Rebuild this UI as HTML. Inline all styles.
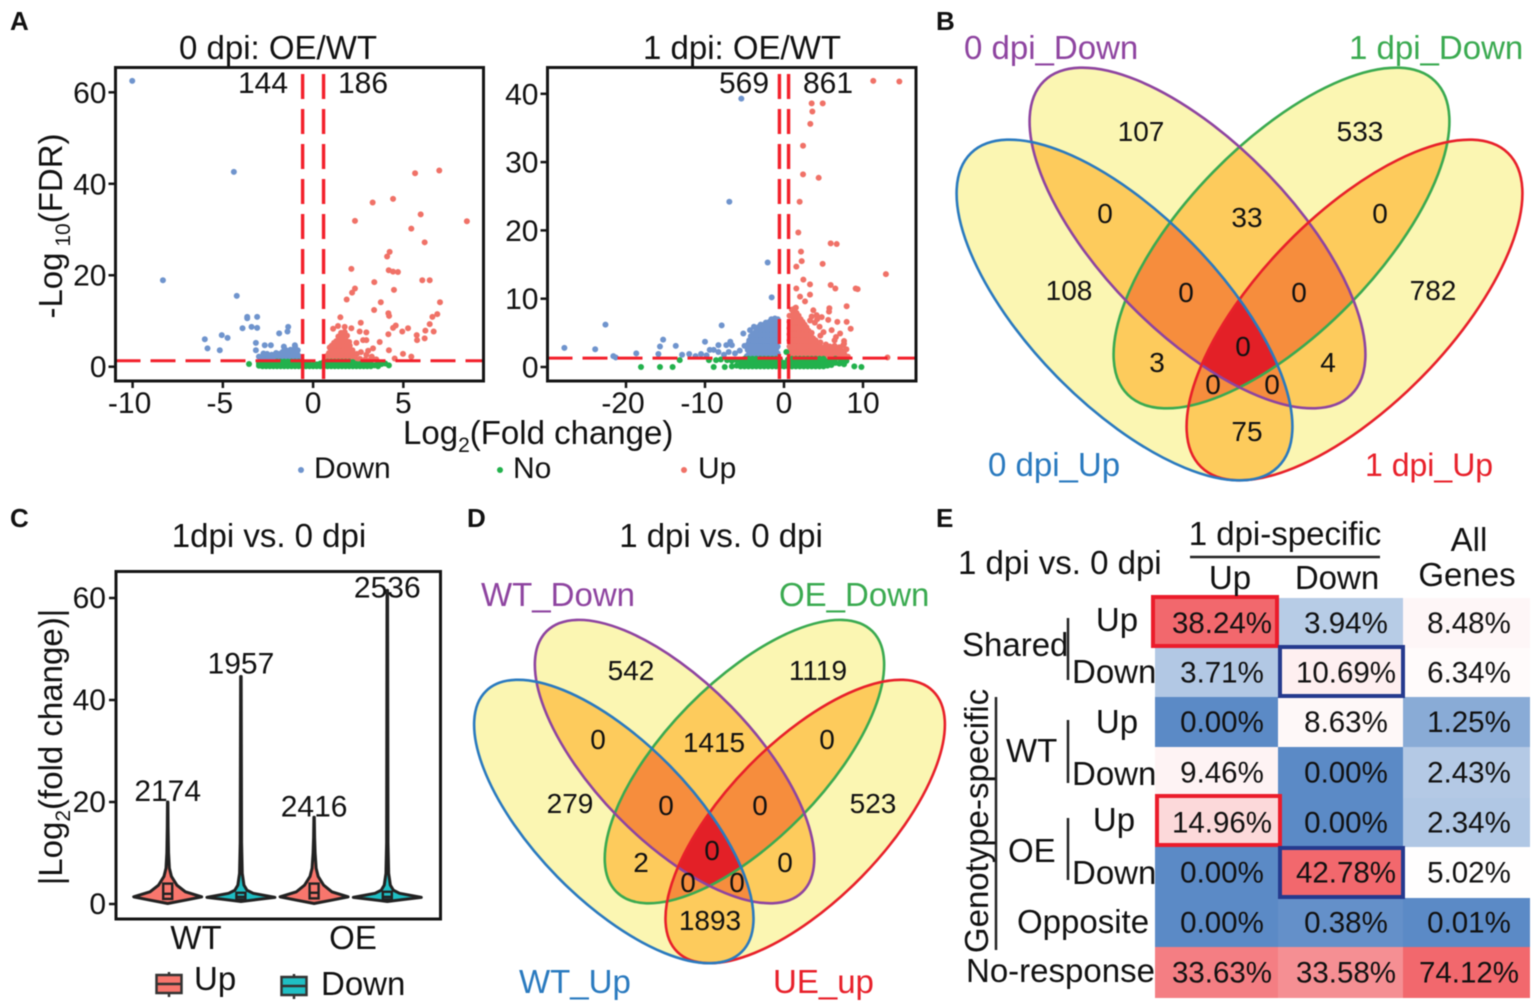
<!DOCTYPE html>
<html lang="en">
<head>
<meta charset="utf-8">
<title>Volcano, violin, Venn and heatmap panels</title>
<style>
html,body{margin:0;padding:0;background:#fff;width:1535px;height:1005px;overflow:hidden}
svg{display:block;filter:blur(0.45px)}
text{font-family:"Liberation Sans",sans-serif;fill:#111}
</style>
</head>
<body>
<svg id="fig" xmlns="http://www.w3.org/2000/svg" width="1535" height="1005" viewBox="0 0 1535 1005">
  <rect x="0" y="0" width="1535" height="1005" fill="#fff"/>
  <g id="layer-venn"></g>
  <g id="layer-table"></g>
  <g id="layer-plots"></g>

  <g font-weight="bold" font-size="26">
    <text x="10" y="30" font-weight="bold">A</text>
    <text x="936" y="30" font-weight="bold">B</text>
    <text x="10" y="527" font-weight="bold">C</text>
    <text x="467" y="527" font-weight="bold">D</text>
    <text x="936" y="527" font-weight="bold">E</text>
  </g>

  <g font-size="33">
    <text x="278" y="59" text-anchor="middle">0 dpi: OE/WT</text>
    <text x="742" y="59" text-anchor="middle">1 dpi: OE/WT</text>
  </g>
  <g font-size="30">
    <text x="238" y="93">144</text>
    <text x="338" y="93">186</text>
    <text x="719" y="93">569</text>
    <text x="803" y="93">861</text>
    <text transform="translate(62,226) rotate(-90)" text-anchor="middle" font-size="33">-Log<tspan font-size="21" dy="8"> 10</tspan><tspan dy="-8">(FDR)</tspan></text>
    <text x="403" y="444" font-size="33">Log<tspan font-size="21" dy="8">2</tspan><tspan dy="-8">(Fold change)</tspan></text>
    <text x="314" y="478">Down</text>
    <text x="513" y="478">No</text>
    <text x="698" y="478">Up</text>
  </g>
  <circle cx="301" cy="470" r="3" fill="#6F94CD"/>
  <circle cx="500" cy="470" r="3" fill="#22B14C"/>
  <circle cx="684" cy="470" r="3" fill="#F07167"/>

  <g font-size="33">
    <text x="964" y="59" style="fill:#8E44A0">0 dpi_Down</text>
    <text x="1349" y="59" style="fill:#3AAA50">1 dpi_Down</text>
    <text x="988" y="476" style="fill:#2A7ABF">0 dpi_Up</text>
    <text x="1365" y="476" font-size="32" style="fill:#E8202A">1 dpi_Up</text>
    <text x="481" y="606" style="fill:#8E44A0">WT_Down</text>
    <text x="779" y="606" style="fill:#3AAA50">OE_Down</text>
    <text x="519" y="993" style="fill:#2A7ABF">WT_Up</text>
    <text x="773" y="993" style="fill:#E8202A">UE_up</text>
    <text x="721" y="547" text-anchor="middle">1 dpi vs. 0 dpi</text>
    <text x="269" y="547" text-anchor="middle">1dpi vs. 0 dpi</text>
    <text transform="translate(62,747) rotate(-90)" text-anchor="middle">|Log<tspan font-size="21" dy="8">2</tspan><tspan dy="-8">(fold change)|</tspan></text>
    <text x="196" y="949" text-anchor="middle">WT</text>
    <text x="353" y="949" text-anchor="middle">OE</text>
    <text x="194" y="990">Up</text>
    <text x="321" y="995">Down</text>
  </g>

  <g font-size="33">
    <text x="958" y="574">1 dpi vs. 0 dpi</text>
    <text x="1285" y="545" text-anchor="middle">1 dpi-specific</text>
    <line x1="1190" y1="557" x2="1380" y2="557" stroke="#222" stroke-width="2.5"/>
    <text x="1230" y="589" text-anchor="middle">Up</text>
    <text x="1337" y="589" text-anchor="middle">Down</text>
    <text x="1469" y="551" text-anchor="middle">All</text>
    <text x="1467" y="586" text-anchor="middle">Genes</text>
    <text x="1117" y="631" text-anchor="middle">Up</text>
    <text x="962" y="656">Shared</text>
    <text x="1072" y="683">Down</text>
    <text x="1117" y="733" text-anchor="middle">Up</text>
    <text x="1006" y="762">WT</text>
    <text x="1072" y="785">Down</text>
    <text x="1114" y="831" text-anchor="middle">Up</text>
    <text x="1008" y="862">OE</text>
    <text x="1072" y="884">Down</text>
    <text x="1017" y="933">Opposite</text>
    <text x="966" y="982">No-response</text>
    <text transform="translate(988,821) rotate(-90)" text-anchor="middle">Genotype-specific</text>
    <line x1="996" y1="697" x2="996" y2="950" stroke="#222" stroke-width="2.5"/>
    <line x1="1068" y1="618" x2="1068" y2="680" stroke="#222" stroke-width="2.5"/>
    <line x1="1068" y1="720" x2="1068" y2="783" stroke="#222" stroke-width="2.5"/>
    <line x1="1068" y1="818" x2="1068" y2="880" stroke="#222" stroke-width="2.5"/>
  </g>
</svg>

<script>
/* ---------- Panel A data: volcano plots, [log2FC, -log10FDR] ---------- */
const xTicks0 = [-10, -5, 0, 5];
const yTicks0 = [0, 20, 40, 60];
const xTicks1 = [-20, -10, 0, 10];
const yTicks1 = [0, 10, 20, 30, 40];
const foldCutoff = 0.58;
const fdrCutoff = 1.3;

const down0 = [[-10.02,62.5],[-4.39,42.6],[-8.32,18.9],[-4.23,15.5],[-3.65,10.9],[-3.65,10.6],[-3.1,10.9],[-3.41,8.7],[-3.1,8.5],[-3.91,8.4],[-6,6],[-5.06,6.9],[-4.74,6.3],[-5.85,4],[-5.17,3.6],[-3.17,5.2],[-2.68,4.7],[-2.34,4.7],[-1.38,8.7],[-1.42,7.7],[-1.88,7.3],[-1.01,4.7],[-1.62,4.4],[-3.17,3.6],
[-3,2.2],[-2.8,1.6],[-2.7,2.4],[-2.6,1.5],[-2.5,2.1],[-2.4,1.6],[-2.3,2.6],[-2.2,1.5],[-2.1,2],[-2,1.6],[-1.9,2.8],[-1.8,1.5],[-1.75,2.2],[-1.7,3.2],[-1.6,1.7],[-1.55,2.6],[-1.5,3.6],[-1.4,1.6],[-1.35,2.4],[-1.3,3.1],[-1.2,1.7],[-1.15,2.6],[-1.1,3.6],[-1.05,1.6],[-1,2.3],[-0.95,3.2],[-0.9,1.7],[-0.85,2.6],[-0.8,1.6],[-0.75,2.2],[-0.7,1.5],
[-2.9,1.9],[-2.75,2.9],[-2.55,2.8],[-2.45,1.9],[-2.25,1.9],[-2.15,2.6],[-2.05,3],[-1.95,2.1],[-1.85,2.3],[-1.65,2.3],[-1.65,3.3],[-1.45,2.9],[-1.25,2.2],[-1.25,3.7],[-1.15,2],[-1.05,3],[-0.95,2.1],[-0.85,3.6],[-1,4.4]];

const up0 = [[6.99,42.9],[5.65,42.3],[4.43,36.7],[3.3,35.9],[5.96,33.3],[2.32,31.9],[8.52,31.8],[5.44,30.2],[6.18,27.2],[4.24,25.1],[4.1,24.1],[2.12,21.4],[4.19,21.1],[4.43,20.8],[4.7,20.7],[6.05,18.9],[6.46,18.9],[3.39,18.5],[4.48,16.8],[2.32,17.1],[2.16,16.2],[1.86,14.7],[3.75,14.1],[7.03,14.1],[3.38,12.4],[4.17,11.7],[4.21,11.1],[6.88,11.5],[6.61,10.9],[1.51,10.8],[6.46,9.3],[4.58,9],[4.43,8.5],[5.26,8.4],[4.94,7.7],[6.68,7.7],[6.22,7.9],[4.17,7.1],[5.74,6.9],[6.18,6.2],[5.76,5.8],[2.64,9.6],[1.38,8.9],[1.11,8.3],[2.12,8.4],[1.75,8.7],[2.58,7.7],[2.95,7.5],[2.95,5.8],[2.77,5.8],[2.4,5.2],[3.69,5.4],[3.32,4],[4.98,2.8],[4.52,1.8],[5.44,2.2],[4.2,3.6],
[0.75,1.5],[0.78,2.4],[0.85,1.6],[0.88,3],[0.92,4.2],[1,1.6],[1.02,2.6],[1.05,3.6],[1.03,4.6],[1.1,1.8],[1.12,3],[1.14,4.2],[1.16,5.2],[1.25,1.6],[1.25,2.6],[1.27,3.6],[1.24,4.6],[1.28,5.6],[1.4,1.6],[1.42,2.6],[1.38,3.6],[1.41,4.6],[1.44,5.6],[1.4,6.6],[1.55,1.6],[1.56,2.6],[1.54,3.6],[1.57,4.6],[1.53,5.6],[1.56,6.6],[1.55,7.4],[1.7,1.6],[1.71,2.6],[1.69,3.6],[1.72,4.6],[1.7,5.6],[1.68,6.6],[1.75,7.6],[1.85,1.6],[1.86,2.6],[1.84,3.6],[1.87,4.6],[1.85,5.6],[1.88,6.8],[2,1.6],[2.02,2.6],[1.98,3.6],[2.03,4.6],[2,5.4],[2.2,1.6],[2.22,2.6],[2.18,3.6],[2.4,1.6],[2.42,2.8],[2.6,1.7],[2.65,3.2],[2.9,1.6],[2.95,2.6],[3.2,1.6],[3.25,2.2],[3.5,1.6],[3.05,3.5]];

const no0 = [[-3.55,0.6],[-3,0.2],[-3,0.7],[-2.8,0.1],[-2.8,0.6],[-2.6,0.1],[-2.6,0.6],[-2.4,0.1],[-2.4,0.6],[-2.2,0.1],[-2.2,0.7],[-2,0.1],[-2,0.6],[-2,1.1],[-1.8,0.1],[-1.8,0.6],[-1.8,1.1],[-1.6,0.1],[-1.6,0.6],[-1.6,1.1],[-1.4,0.1],[-1.4,0.6],[-1.4,1.1],[-1.2,0.1],[-1.2,0.6],[-1.2,1.1],[-1,0.1],[-1,0.6],[-1,1.1],[-0.8,0.1],[-0.8,0.6],[-0.8,1.1],[-0.6,0.1],[-0.6,0.6],[-0.6,1.1],[-0.4,0.1],[-0.4,0.6],[-0.2,0.1],[-0.2,0.5],[0,0.1],[0,0.4],[0.2,0.1],[0.2,0.5],[0.4,0.1],[0.4,0.7],[0.6,0.1],[0.6,0.7],[0.6,1.1],[0.8,0.1],[0.8,0.6],[0.8,1.1],[1,0.1],[1,0.6],[1,1.1],[1.2,0.1],[1.2,0.6],[1.2,1.1],[1.4,0.1],[1.4,0.6],[1.4,1.1],[1.6,0.1],[1.6,0.6],[1.6,1.1],[1.8,0.1],[1.8,0.6],[1.8,1.1],[2,0.1],[2,0.6],[2,1.1],[2.2,0.1],[2.2,0.6],[2.2,1],[2.4,0.1],[2.4,0.6],[2.6,0.1],[2.6,0.6],[2.8,0.1],[2.8,0.5],[3,0.1],[3,0.6],[3.2,0.1],[3.2,0.6],[3.4,0.3],[3.6,0.1],[3.6,0.7],[3.8,0.6],[4,0.7],[4.2,0.3]];

const down1 = [[-5.4,39.3],[-6.92,24.2],[-2.07,15.3],[-1.56,10.2],[-22.6,6.2],[-7.89,6.1],[-27.8,2.8],[-23.9,2.6],[-21.6,1.6],[-21.3,1.4],[-18.7,2],[-15.3,4],[-15.7,3],[-15.9,1.9],[-13.7,3.1],[-12.9,1.8],[-12,1.9],[-10.5,1.9],[-10,3.7],[-8.3,3.2],[-9.4,2.5],[-8.9,2.5],[-8.3,2.2],[-6.8,3.7],[-7.3,3.2],[-6.6,3.2],[-5.15,4.9],[-3.8,5.9],[-4.3,5.4],[-11.2,1.6],[-9.8,1.7],[-7.6,1.8],[-7,2.2],[-6.2,2],[-5.6,2.4],[-5,3.1],
[-4.7,1.6],[-4.6,2.5],[-4.5,3.4],[-4.2,1.6],[-4.15,2.6],[-4.1,3.6],[-4.2,4.5],[-3.7,1.6],[-3.7,2.5],[-3.65,3.4],[-3.7,4.3],[-3.6,5.1],[-3.2,1.6],[-3.2,2.5],[-3.15,3.4],[-3.2,4.3],[-3.2,5.1],[-3.15,5.9],[-2.7,1.6],[-2.7,2.5],[-2.75,3.4],[-2.7,4.3],[-2.7,5.1],[-2.65,5.9],[-2.3,1.6],[-2.25,2.5],[-2.3,3.4],[-2.3,4.3],[-2.25,5.1],[-2.3,5.9],[-2.3,6.5],[-1.8,1.6],[-1.8,2.5],[-1.85,3.4],[-1.8,4.3],[-1.8,5.1],[-1.8,5.9],[-1.85,6.6],[-1.35,1.6],[-1.35,2.5],[-1.3,3.4],[-1.35,4.3],[-1.35,5.1],[-1.3,5.9],[-1.35,6.8],[-1,1.7],[-1,2.6],[-0.95,3.5],[-0.95,4.4],[-1,5.2],[-1,6],[-0.95,6.9],
[-4.4,2],[-4.4,3],[-4.4,3.9],[-3.95,2],[-3.95,3],[-3.95,3.9],[-3.95,4.8],[-3.45,2],[-3.45,3],[-3.45,3.9],[-3.45,4.7],[-3.45,5.5],[-2.95,2],[-2.95,3],[-2.95,3.9],[-2.95,4.7],[-2.95,5.5],[-2.95,6.2],[-2.5,2],[-2.5,3],[-2.5,3.9],[-2.5,4.7],[-2.5,5.5],[-2.5,6.2],[-2.05,2],[-2.05,3],[-2.05,3.9],[-2.05,4.7],[-2.05,5.5],[-2.05,6.3],[-1.6,2],[-1.6,3],[-1.6,3.9],[-1.6,4.7],[-1.6,5.5],[-1.6,6.3],[-1.6,7],[-1.15,2],[-1.15,3],[-1.15,3.9],[-1.15,4.7],[-1.15,5.5],[-1.15,6.3],[-1.15,7.1],[-0.8,2],[-0.8,3],[-0.8,3.9],[-0.8,4.7],[-0.8,5.5],[-0.8,6.3],[-0.8,7]];

const up1 = [[11.3,41.9],[14.6,41.8],[3.5,38.6],[4.9,38.6],[3.59,37.4],[3.33,35.6],[2.41,32.4],[2.41,28.2],[4.39,27.7],[1.98,24.2],[1.81,19.7],[5.91,18.1],[6.67,18],[2.15,16.9],[2.24,15.5],[4.89,15.1],[1.56,14.7],[12.9,13.6],[2.45,12.8],[3.29,12.1],[5.91,12],[6.5,11.5],[9.07,11.5],[9.32,11.4],[1.56,11.5],[3.29,10.6],[2.03,10.3],[2.66,9.6],[7.93,8.9],[5.74,8.6],[3.71,8.3],[4.13,7.6],[4.77,7.3],[6.75,6.6],[7.93,6.6],[8.44,5.6],[6.03,5.4],[6.58,4.4],[7.5,3.2],[13.1,1.4],[5.7,8.1],[4.2,7],[3.9,6.5],
[0.85,1.6],[0.85,2.5],[0.85,3.4],[0.85,4.3],[0.85,5.2],[0.85,6.1],[1.2,1.6],[1.2,2.5],[1.2,3.4],[1.2,4.3],[1.2,5.2],[1.2,6.1],[1.2,7],[1.2,7.9],[1.5,8.7],[1.6,1.6],[1.6,2.5],[1.6,3.4],[1.6,4.3],[1.6,5.2],[1.6,6.1],[1.6,7],[1.6,7.9],[2.1,1.6],[2.1,2.5],[2.1,3.4],[2.1,4.3],[2.1,5.2],[2.1,6.1],[2.1,7],[2.6,1.6],[2.6,2.5],[2.6,3.4],[2.6,4.3],[2.6,5.2],[2.6,6.2],[3.1,1.6],[3.1,2.5],[3.1,3.4],[3.1,4.3],[3.1,5.3],[3.7,1.6],[3.7,2.5],[3.7,3.4],[3.7,4.2],[3.5,5],[4.3,1.6],[4.3,2.5],[4.3,3.4],[4.9,1.6],[4.9,2.5],[4.6,3.6],[5.5,1.6],[5.5,2.5],[5.3,3.3],[6.1,1.6],[6.1,2.5],[6.7,1.6],[6.7,2.6],[7.2,1.6],[7.3,2.4],[7.8,1.6],[7.9,2.6],[8.1,1.5],
[0.7,2],[0.7,3],[0.7,3.9],[0.7,4.8],[0.7,5.7],[0.7,6.6],[0.7,7.5],[1,2],[1,3],[1,3.9],[1,4.8],[1,5.7],[1,6.6],[1,7.5],[1,8.4],[1.4,2],[1.4,3],[1.4,3.9],[1.4,4.8],[1.4,5.7],[1.4,6.6],[1.4,7.5],[1.4,8.6],[1.85,2],[1.85,3],[1.85,3.9],[1.85,4.8],[1.85,5.7],[1.85,6.6],[1.85,7.5],[2.35,2],[2.35,3],[2.35,3.9],[2.35,4.8],[2.35,5.7],[2.35,6.6],[2.85,2],[2.85,3],[2.85,3.9],[2.85,4.8],[2.85,5.8],[3.4,2],[3.4,3],[3.4,3.9],[3.4,4.7],[4,2],[4,3],[4,3.9],[4.6,2],[4.6,3],[5.2,2],[5.2,2.9],[5.8,2],[5.8,3],[6.4,2],[6.4,3.1],[7,2],[7,2.9],[7.6,2],[7.6,3.4],[4.5,5.9],[5,5.1],[5.6,6.9],[6.4,3.9],[7.1,4.9],[7.6,3.8],[3.3,6.8],[3.5,7.4],[4.6,4.6]];

const no1 = [[-18.1,0],[-15.7,0],[-14.1,0],[-13.2,1],[-9.5,1],[-8.9,0],[-8.6,1],[-7.5,0],[-8,1.1],[-7.2,1],[-6.6,0.1],[-6.6,0.9],[-6,0.2],[-6,1],[-5.5,0.1],[-5.5,0.8],[-5,0.1],[-5,0.7],[-5,1.2],[-4.5,0.1],[-4.5,0.6],[-4.5,1.2],[-4,0.1],[-4,0.6],[-4,1.2],[-3.5,0.1],[-3.5,0.6],[-3.5,1.2],[-3,0.1],[-3,0.6],[-3,1.2],[-2.5,0.1],[-2.5,0.6],[-2.5,1.2],[-2,0.1],[-2,0.6],[-2,1.2],[-1.5,0.1],[-1.5,0.6],[-1.5,1.2],[-1,0.1],[-1,0.6],[-1,1.2],[-0.5,0.1],[-0.5,0.6],[-0.5,1.1],[0,0.1],[0,0.6],[0.3,2.2],[0.5,0.1],[0.5,0.6],[0.5,1.1],[1,0.1],[1,0.6],[1,1.2],[1.5,0.1],[1.5,0.6],[1.5,1.2],[2,0.1],[2,0.6],[2,1.2],[2.5,0.1],[2.5,0.6],[2.5,1.2],[3,0.1],[3,0.6],[3,1.2],[3.5,0.1],[3.5,0.6],[3.5,1.2],[4,0.1],[4,0.6],[4,1.2],[4.5,0.1],[4.5,0.6],[4.5,1.2],[5,0.1],[5,0.6],[5,1.2],[5.5,0.2],[5.5,0.8],[6,0.3],[6,1],[6.5,0.6],[6.5,1.2],[7,0.5],[7.2,1],[7.6,0.4],[7.9,0.9],[8.9,0.1],[9.8,0]];

/* ---------- Panel C data: violins ---------- */
const violinTicks = [0, 20, 40, 60];
const violinLabels = ['2174', '1957', '2416', '2536'];
const wtUpLevels = [0.1,0.8,1.4,2.4,3.7,5.4,7,10,15,20];
const wtUpDensity = [0,0.55,1,0.52,0.27,0.11,0.05,0.025,0.012,0.006];
const wtDownLevels = [0.5,0.9,1.3,2.1,2.7,3.7,6,12,44.6];
const wtDownDensity = [0,0.5,1,0.36,0.18,0.09,0.04,0.02,0.008];
const oeUpLevels = [0.1,0.8,1.4,2.4,3.7,5.4,7,10,13,17];
const oeUpDensity = [0,0.55,1,0.52,0.28,0.12,0.06,0.03,0.015,0.006];
const oeDownLevels = [0.5,0.9,1.3,2.1,2.7,3.7,6,12,61.5];
const oeDownDensity = [0,0.5,1,0.36,0.18,0.09,0.04,0.02,0.008];
const boxQ1 = [1.0, 0.9, 1.1, 0.9];
const boxMedian = [2.0, 1.4, 2.2, 1.4];
const boxQ3 = [4.0, 2.2, 4.0, 2.4];

/* ---------- Panels B, D data: Venn region counts ---------- */
const vennBCounts = [107,533,0,33,0,108,0,0,782,3,0,4,0,0,75];
const vennDCounts = [542,1119,0,1415,0,279,0,0,523,2,0,0,0,0,1893];

/* ---------- Panel E data: heatmap percentages ---------- */
const heatUp = [38.24,3.71,0.00,9.46,14.96,0.00,0.00,33.63];
const heatDown = [3.94,10.69,8.63,0.00,0.00,42.78,0.38,33.58];
const heatAll = [8.48,6.34,1.25,2.43,2.34,5.02,0.01,74.12];
const heatMid = [7, 7, 4.5];

const NS = 'http://www.w3.org/2000/svg';
function mk(parent, tag, attrs, text) {
  const el = document.createElementNS(NS, tag);
  for (const k in attrs) el.setAttribute(k, attrs[k]);
  if (text !== undefined) el.textContent = text;
  parent.appendChild(el);
  return el;
}
const plots = document.getElementById('layer-plots');
const vennLayer = document.getElementById('layer-venn');
const tableLayer = document.getElementById('layer-table');
const INK = '#151515';

/* ---------- Volcano ---------- */
function drawVolcano(o) {
  const g = mk(plots, 'g', {});
  
  
  const sets = [[o.down, '#6F94CD', 'down'], [o.up, '#F07167', 'up'], [o.no, '#22B14C', 'no']];
  for (const s of sets) {
    for (const p of s[0]) {
      const dot = mk(g, 'circle', {cx: o.x(p[0]), cy: o.y(p[1]), r: 3, fill: s[1]});
      
      
    }
  }
  for (const v of [-foldCutoff, foldCutoff]) {
    const l = mk(g, 'line', {x1: o.x(v), x2: o.x(v), y1: o.top + 6.5, y2: o.bottom + 7, stroke: '#F3202B', 'stroke-width': 3.4, 'stroke-dasharray': '25 10'});
    
    
  }
  const h = mk(g, 'line', {x1: o.left, x2: o.right, y1: o.y(fdrCutoff), y2: o.y(fdrCutoff), stroke: '#F3202B', 'stroke-width': 3, 'stroke-dasharray': '25 10'});
  
  
  const frame = mk(g, 'rect', {x: o.left, y: o.top, width: o.right - o.left, height: o.bottom - o.top, fill: 'none', stroke: INK, 'stroke-width': 3});
  
  
  for (const t of o.xTicks) {
    const m = mk(g, 'line', {x1: o.x(t), x2: o.x(t), y1: o.bottom, y2: o.bottom + 7, stroke: INK, 'stroke-width': 2.5});
    
    
    const lb = mk(g, 'text', {x: o.x(t) - (t < 0 ? 3 : 0), y: 413, 'text-anchor': 'middle', 'font-size': 30}, String(t));
    
    
  }
  for (const t of o.yTicks) {
    const m = mk(g, 'line', {x1: o.left - 7, x2: o.left, y1: o.y(t), y2: o.y(t), stroke: INK, 'stroke-width': 2.5});
    
    
    const lb = mk(g, 'text', {x: o.left - 9, y: o.y(t) + 10.5, 'text-anchor': 'end', 'font-size': 30}, String(t));
    
    
  }
}
drawVolcano({name: 'volcano-0dpi', down: down0, up: up0, no: no0, xTicks: xTicks0, yTicks: yTicks0,
  x: v => 313.1 + 18.05 * v, y: v => 366.7 - 4.573 * v, left: 115.5, right: 483.5, top: 67.5, bottom: 381});
drawVolcano({name: 'volcano-1dpi', down: down1, up: up1, no: no1, xTicks: xTicks1, yTicks: yTicks1,
  x: v => 784 + 7.9 * v, y: v => 367 - 6.83 * v, left: 547.5, right: 916, top: 67.5, bottom: 381});

/* ---------- Violin ---------- */
const vy = v => 904 - 5.1 * v;
const violinX = i => 167.7 + 73.2 * i;
function drawViolin(parent, i, levels, density, fill) {
  const cx = violinX(i);
  const K = 34;
  let d = '';
  levels.forEach((lv, j) => { d += (j ? 'L' : 'M') + (cx + K * density[j]) + ' ' + vy(lv); });
  for (let j = levels.length - 1; j >= 0; j--) d += 'L' + (cx - K * density[j]) + ' ' + vy(levels[j]);
  const p = mk(parent, 'path', {d: d + 'Z', fill: fill, stroke: '#222', 'stroke-width': 3, 'stroke-linejoin': 'round'});
  
  
  const b = mk(parent, 'rect', {x: cx - 4.5, y: vy(boxQ3[i]), width: 9, height: vy(boxQ1[i]) - vy(boxQ3[i]), fill: fill, stroke: '#222', 'stroke-width': 2.4});
  
  
  const m = mk(parent, 'line', {x1: cx - 4.5, x2: cx + 4.5, y1: vy(boxMedian[i]), y2: vy(boxMedian[i]), stroke: '#222', 'stroke-width': 2.4});
  
  
}
(function () {
  const g = mk(plots, 'g', {});
  
  
  drawViolin(g, 0, wtUpLevels, wtUpDensity, '#F8766D');
  drawViolin(g, 1, wtDownLevels, wtDownDensity, '#1FBFC4');
  drawViolin(g, 2, oeUpLevels, oeUpDensity, '#F8766D');
  drawViolin(g, 3, oeDownLevels, oeDownDensity, '#1FBFC4');
  const tops = [wtUpLevels, wtDownLevels, oeUpLevels, oeDownLevels];
  const gaps = [1, 3, 1, -7];
  violinLabels.forEach((s, i) => {
    const top = tops[i][tops[i].length - 1];
    const lb = mk(g, 'text', {x: violinX(i), y: vy(top) - gaps[i], 'text-anchor': 'middle', 'font-size': 30}, s);
    
    
  });
  const frame = mk(g, 'rect', {x: 116, y: 571.5, width: 324.5, height: 347.5, fill: 'none', stroke: INK, 'stroke-width': 3});
  
  
  violinTicks.forEach(t => {
    const m = mk(g, 'line', {x1: 109, x2: 116, y1: vy(t), y2: vy(t), stroke: INK, 'stroke-width': 2.5});
    
    
    const lb = mk(g, 'text', {x: 106, y: vy(t) + 10, 'text-anchor': 'end', 'font-size': 30}, String(t));
    
    
  });
  const swatches = [[156.5, 975, '#F8766D', 'legend-swatch-up'], [281.5, 977, '#1FBFC4', 'legend-swatch-down']];
  swatches.forEach(s => {
    const w = mk(g, 'line', {x1: s[0] + 12.5, x2: s[0] + 12.5, y1: s[1] - 3, y2: s[1] + 22, stroke: '#333', 'stroke-width': 2.5});
    
    
    const r = mk(g, 'rect', {x: s[0], y: s[1], width: 25, height: 18, fill: s[2], stroke: '#333', 'stroke-width': 2.5});
    
    
    const l = mk(g, 'line', {x1: s[0], x2: s[0] + 25, y1: s[1] + 9, y2: s[1] + 9, stroke: '#333', 'stroke-width': 2.5});
    
    
  });
})();

/* ---------- Venn ---------- */
function drawVenn(o) {
  const k = o.scale;
  const shapes = [
    {id: 'b', dx: -115, dy: 0, rot: 45.6, col: '#2A7ABF'},
    {id: 'p', dx: -42, dy: -72, rot: 45.6, col: '#8E44A0'},
    {id: 'g', dx: 42, dy: -72, rot: -45.6, col: '#3AAA50'},
    {id: 'r', dx: 115, dy: 0, rot: -45.6, col: '#E8202A'}
  ];
  const A = 219.5, B = 95;
  const g = mk(vennLayer, 'g', {transform: 'translate(' + o.cx + ',' + o.cy + ') scale(' + k + ')'});
  
  
  const defs = mk(g, 'defs', {});
  const geom = s => ({cx: s.dx, cy: s.dy, rx: A, ry: B, transform: 'rotate(' + s.rot + ' ' + s.dx + ' ' + s.dy + ')'});
  shapes.forEach(s => {
    const cp = mk(defs, 'clipPath', {id: o.name + '-clip-' + s.id});
    mk(cp, 'ellipse', geom(s));
  });
  const url = s => 'url(#' + o.name + '-clip-' + s.id + ')';
  shapes.forEach(s => {
    const e = mk(g, 'ellipse', Object.assign(geom(s), {fill: '#FBF6B2'}));
    
    
  });
  function fillRegion(members, color) {
    let parent = g;
    for (let i = 0; i < members.length - 1; i++) parent = mk(parent, 'g', {'clip-path': url(shapes[members[i]])});
    const e = mk(parent, 'ellipse', Object.assign(geom(shapes[members[members.length - 1]]), {fill: color}));
    
    
  }
  [[0,1],[0,2],[0,3],[1,2],[1,3],[2,3]].forEach(m => fillRegion(m, '#FDCB5C'));
  [[0,1,2],[0,1,3],[0,2,3],[1,2,3]].forEach(m => fillRegion(m, '#F68D3D'));
  fillRegion([0,1,2,3], '#E32027');
  [2,1,3,0].forEach(i => {
    const e = mk(g, 'ellipse', Object.assign(geom(shapes[i]), {fill: 'none', stroke: shapes[i].col, 'stroke-width': 2.6 / k}));
    
    
  });
  o.counts.forEach((c, i) => {
    const t = mk(vennLayer, 'text', {x: o.px[i], y: o.py[i], 'text-anchor': 'middle', 'font-size': o.font}, String(c));
    
    
  });
}
drawVenn({name: 'venn-b', cx: 1239.5, cy: 310, scale: 1, counts: vennBCounts, font: 28,
  px: [1141,1360,1105,1247,1380,1069,1186,1299,1433,1157,1243,1328,1213,1272,1247],
  py: [141,141,223,227,223,300,302,302,300,372,356,372,394,394,441]});
drawVenn({name: 'venn-d', cx: 709.5, cy: 821.5, scale: 0.832, counts: vennDCounts, font: 28,
  px: [631,818,598,714,827,570,666,760,873,641,712,785,688,737,710],
  py: [680,680,749,752,749,813,815,815,813,872,860,872,892,892,930]});

/* ---------- Heatmap ---------- */
const colEdges = [1155, 1278, 1403, 1530];
const rowEdges = [598, 648, 697, 747, 798, 847, 898, 947, 998];
const colCentres = [1222, 1346, 1469];
function heatColor(v, c, max) {
  const mid = heatMid[c];
  let r, gg, b;
  if (v <= mid) {
    const t = v / mid;
    r = 91 + t * 164; gg = 138 + t * 117; b = 198 + t * 57;
  } else {
    const t = (v - mid) / (max - mid);
    r = 255 - t * 13; gg = 255 - t * 151; b = 255 - t * 146;
  }
  return 'rgb(' + Math.round(r) + ',' + Math.round(gg) + ',' + Math.round(b) + ')';
}
[heatUp, heatDown, heatAll].forEach((col, c) => {
  const max = Math.max.apply(null, col);
  col.forEach((v, r) => {
    const cell = mk(tableLayer, 'rect', {x: colEdges[c], y: rowEdges[r], width: colEdges[c + 1] - colEdges[c], height: rowEdges[r + 1] - rowEdges[r], fill: heatColor(v, c, max)});
    
    
  });
});
[heatUp, heatDown, heatAll].forEach((col, c) => {
  col.forEach((v, r) => {
    const lb = mk(tableLayer, 'text', {x: colCentres[c], y: (rowEdges[r] + rowEdges[r + 1]) / 2 + 10, 'text-anchor': 'middle', 'font-size': 29.5}, v.toFixed(2) + '%');
    
    
  });
});
const highlights = [[1153, 597, 124, 49, '#EB1C2B'], [1280, 647, 123, 49, '#253A8E'], [1157, 796, 123, 49, '#EB1C2B'], [1280, 848, 123, 49, '#253A8E']];
highlights.forEach(h => {
  const box = mk(tableLayer, 'rect', {x: h[0], y: h[1], width: h[2], height: h[3], fill: 'none', stroke: h[4], 'stroke-width': 4});
  
  
});
</script>
</body>
</html>
